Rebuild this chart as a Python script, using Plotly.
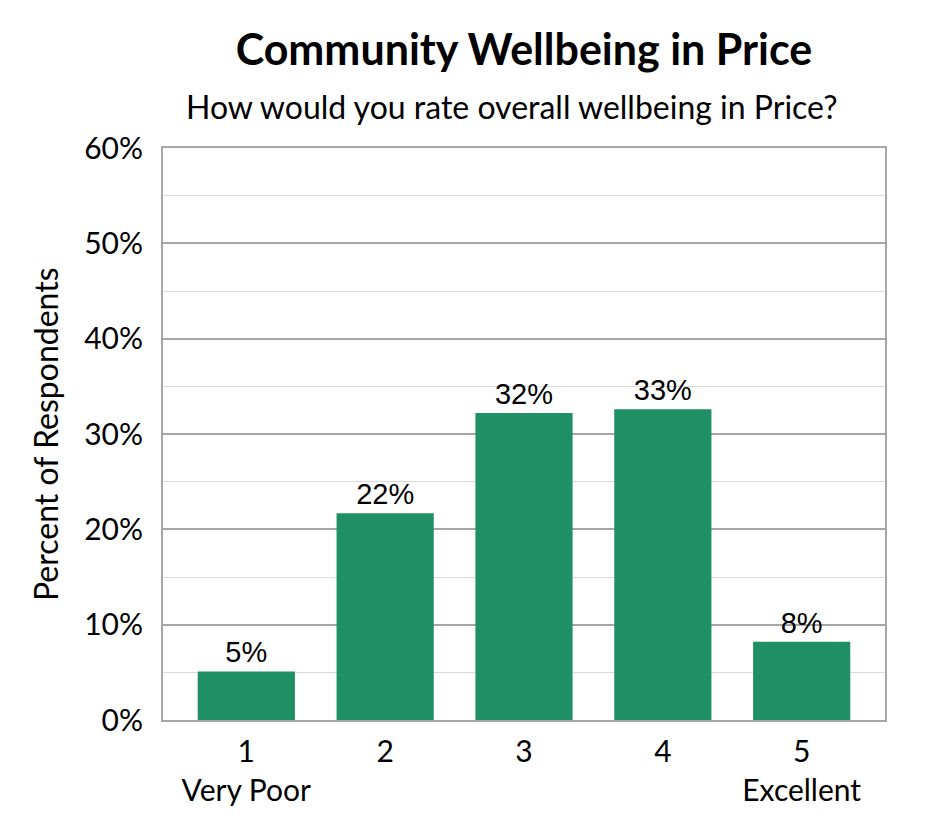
import plotly.graph_objects as go

categories = ["1<br>Very Poor", "2", "3", "4", "5<br>Excellent"]
percent = [5.1, 21.7, 32.2, 32.6, 8.2]
labels = ["{}%".format(round(v)) for v in percent]

fig = go.Figure()
fig.add_trace(go.Bar(
    x=categories, y=percent, text=labels, textposition="outside",
    textfont=dict(family="Liberation Sans, Arial", size=29, color="black"),
    marker=dict(color="#1F9065", line=dict(width=0)),
    cliponaxis=False,
))

fig.update_layout(
    width=945, height=840,
    margin=dict(l=155, r=68, t=140, b=128),
    plot_bgcolor="white", paper_bgcolor="white",
    bargap=0.30,
    showlegend=False,
    font=dict(family="Lato, Noto Sans, sans-serif", size=30, color="black"),
    title=dict(text="<b>Community Wellbeing in Price</b>", x=0.5, xref="paper", xanchor="center",
               y=0.95, yanchor="middle", font=dict(size=43, color="black")),
)
fig.add_annotation(text="How would you rate overall wellbeing in Price?", xref="paper", yref="paper",
                   x=0.483, y=1.0, yshift=42, showarrow=False, font=dict(size=32), xanchor="center", yanchor="middle")
# y axis title as a rotated annotation so its position is fixed
fig.add_annotation(text="Percent of Respondents", xref="paper", yref="paper", x=0, y=0.5,
                   xshift=-118, textangle=-90, showarrow=False, font=dict(size=32),
                   xanchor="center", yanchor="middle")

fig.update_xaxes(range=[-0.6, 4.6], showline=True, linecolor="#A6A6A6", linewidth=2, mirror=True,
                 ticks="", tickfont=dict(size=30), ticklabelstandoff=4)
fig.update_yaxes(range=[0, 60], dtick=10, ticksuffix="%", showgrid=True,
                 gridcolor="#A6A6A6", gridwidth=2,
                 minor=dict(dtick=5, showgrid=True, gridcolor="#D9D9D9", gridwidth=1),
                 showline=True, linecolor="#A6A6A6", linewidth=2, mirror=True,
                 zeroline=False, tickfont=dict(size=30), ticklabelstandoff=12)

fig.write_html("out.html")
